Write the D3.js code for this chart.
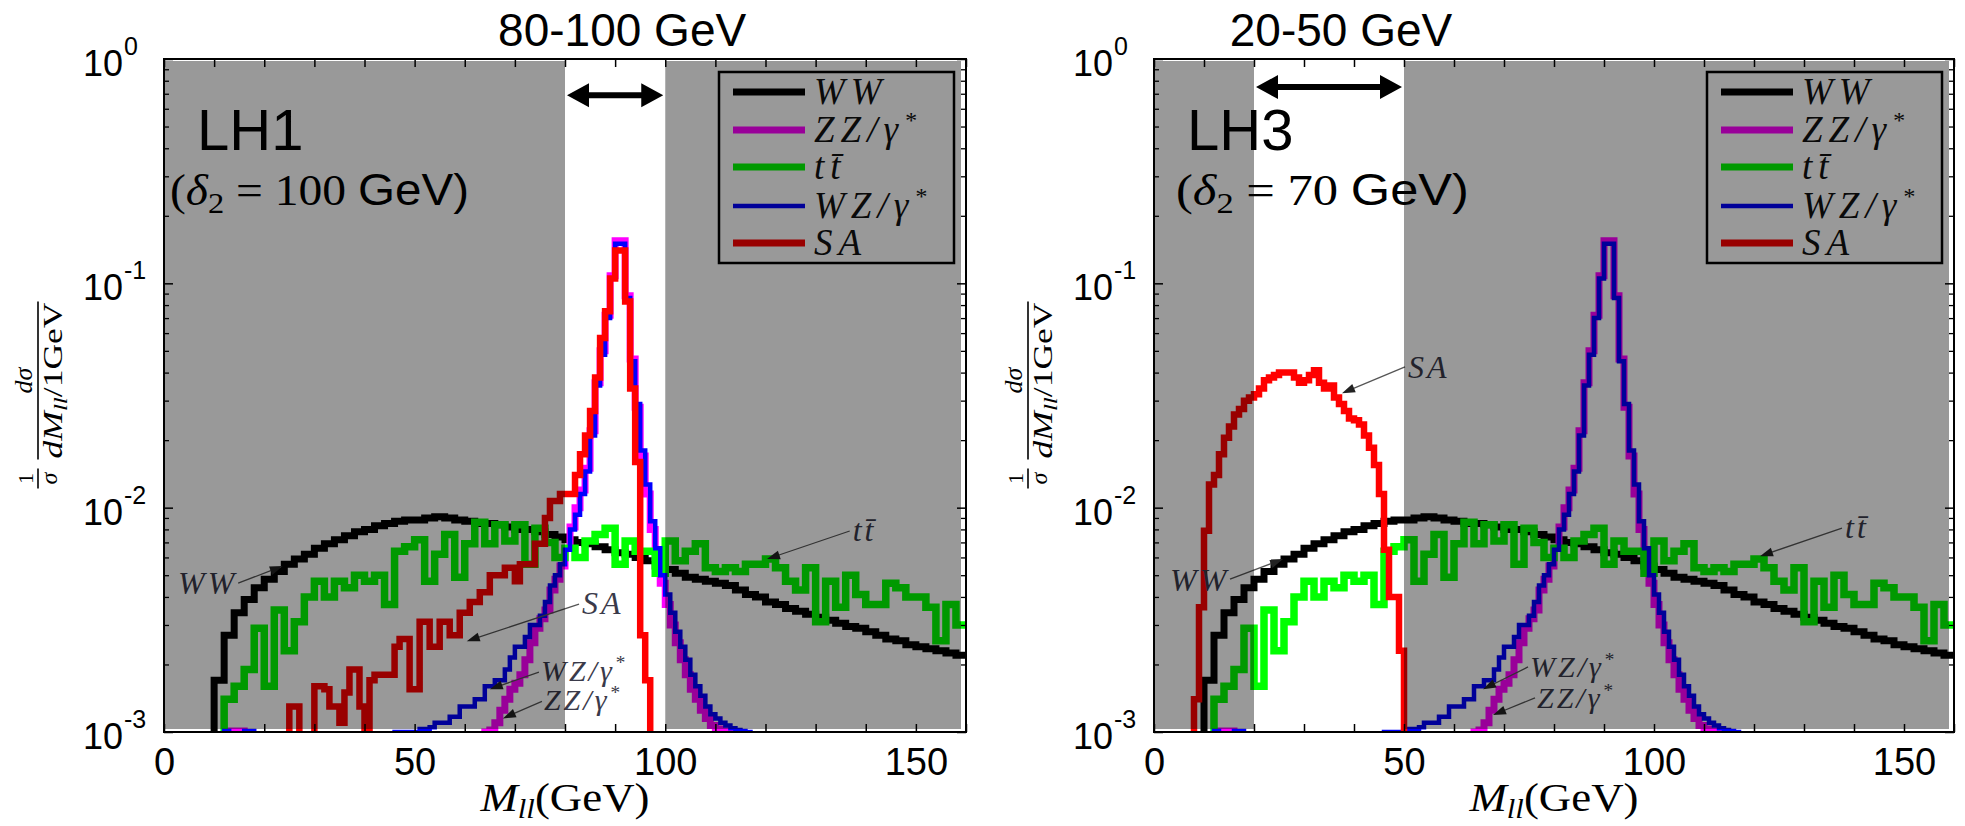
<!DOCTYPE html>
<html>
<head>
<meta charset="utf-8">
<script src="https://cdn.jsdelivr.net/npm/d3@7"></script>
<style>
body { margin: 0; background: #fff; }
svg { display: block; }
</style>
</head>
<body>
<svg id="chart" width="1965" height="826"></svg>
<script>
// Histogram contents, in units of 1e-3 (1/sigma dsigma/dM per GeV)
// WW: 2 GeV bins starting at 8 GeV
let wwVals = [0.5, 1.7, 2.7, 3.4, 3.9, 4.4, 4.8, 5.2, 5.6, 5.9, 6.2, 6.6, 6.9, 7.2, 7.5, 7.8, 8.0, 8.3, 8.5, 8.7,
  8.8, 8.8, 9.0, 9.1, 9.0, 8.8, 8.7, 8.5, 8.5, 8.4, 8.2, 8.0, 8.0, 7.8, 7.6, 7.4, 7.2, 7.0, 6.9, 6.7,
  6.5, 6.3, 6.2, 6.0, 5.8, 5.5, 5.3, 5.1, 4.9, 4.8, 4.7, 4.6, 4.5, 4.3, 4.1, 4.0, 3.8, 3.7, 3.55, 3.45,
  3.35, 3.25, 3.15, 3.05, 2.95, 2.9, 2.8, 2.7, 2.6, 2.55, 2.45, 2.4, 2.35, 2.3, 2.25, 2.2]
// ttbar: 2 GeV bins starting at 10 GeV
let ttVals = [0.5, 1.4, 1.6, 1.9, 2.9, 1.6, 3.5, 2.3, 3.1, 4.0, 4.7, 4.0, 4.7, 4.4, 5.0, 4.7, 5.0, 3.7, 6.4, 6.7,
  7.2, 4.7, 6.2, 7.6, 4.9, 6.9, 8.6, 6.9, 8.4, 7.1, 8.4, 5.6, 8.1, 7.0, 6.0, 6.6, 6.0, 7.1, 7.6, 8.1,
  5.6, 7.1, 6.4, 6.4, 5.1, 7.1, 5.8, 6.4, 6.9, 5.4, 5.2, 5.4, 5.2, 5.6, 5.6, 5.9, 5.4, 4.7, 4.3, 5.4,
  3.1, 4.7, 3.6, 5.0, 4.1, 3.7, 3.7, 4.6, 4.4, 4.0, 4.0, 3.6, 2.55, 3.7, 3.0]
// ZZ/gamma*: 1 GeV bins, a low piece from 12 GeV and the Z peak from 63 GeV
let zzLowVals = [0.5, 1.01, 1.01, 1.01, 0.5]
let zzVals = [0.5, 1.0, 1.02, 1.1, 1.25, 1.4, 1.55, 1.65, 1.8, 2.1, 2.5, 2.9, 3.2, 3.5, 4.3, 4.8, 5.5, 6.6, 8.2, 10,
  12, 15, 22, 36, 50, 72, 108, 155, 155, 88, 46, 28, 17, 11.5, 8.0, 6.0, 4.6, 3.7, 3.0, 2.5,
  2.1, 1.8, 1.55, 1.4, 1.25, 1.15, 1.07, 1.03, 1.01, 1.0, 0.5]
// WZ/gamma*: 1 GeV bins, a low piece from 11 GeV and the Z peak from 45 GeV
let wzLowVals = [0.5, 1.01, 0.5, 0.5, 0.5, 1.01, 1.01, 0.5]
let wzVals = [0.5, 1.0, 1.0, 1.0, 1.0, 1.0, 1.03, 1.03, 1.05, 1.1, 1.1, 1.1, 1.17, 1.17, 1.3, 1.3, 1.3, 1.4, 1.4, 1.6,
  1.6, 1.7, 1.7, 1.9, 2.15, 2.4, 2.4, 2.65, 3.0, 3.0, 3.3, 3.8, 4.5, 5.0, 5.6, 6.5, 8.0, 9.3, 11.5, 14.5,
  21, 35, 48, 70, 105, 150, 150, 86, 45, 29, 18, 12.7, 8.7, 6.6, 5.0, 4.1, 3.4, 2.8, 2.4, 2.1,
  1.8, 1.6, 1.45, 1.3, 1.2, 1.15, 1.1, 1.07, 1.04, 1.02, 1.01, 1.0, 0.5]
// SA signal, LH1: 1 GeV bins from 24 GeV
let saLH1Vals = [0.5, 1.3, 1.3, 0.8, 0.8, 0.8, 1.6, 1.6, 1.55, 1.3, 1.3, 1.1, 1.5, 1.9, 1.9, 1.3, 0.9, 1.7, 1.8, 1.8,
  1.8, 1.8, 2.4, 2.6, 2.6, 1.55, 1.55, 3.1, 3.1, 2.4, 2.4, 3.1, 3.1, 2.7, 2.7, 3.4, 3.4, 3.8, 3.8, 4.2,
  4.2, 5.0, 5.0, 5.0, 5.4, 5.4, 4.7, 5.6, 5.6, 5.6, 6.9, 6.9, 9.0, 10.7, 10.7, 11.5, 11.5, 11.5, 14, 17.3,
  21, 27, 38, 57, 75, 105, 140, 140, 83, 34, 16, 2.7, 1.7, 0.5]
// SA signal, LH3: 1 GeV bins from 7 GeV
let saLH3Vals = [0.5, 1.4, 3.6, 7.9, 12.7, 14, 17.3, 20.5, 23, 26, 27.5, 30, 31, 32, 34, 37, 38, 39, 40, 40,
  40, 38, 36, 37, 39, 41, 36, 34, 35, 31, 29, 27, 25, 24.5, 23.5, 21, 18.5, 15.5, 11.5, 6.5,
  4.0, 4.0, 2.3, 0.5]

let seriesNames = ["WW", "ZZ", "tt", "WZ", "SA"]
let xLabelTicks = [0, 50, 100, 150]
let yExponents = [0, -1, -2, -3]

// series colours (the grey shading darkens them outside the window)
let colors = { WW: "#000000", ZZ: "#ff00ff", tt: "#00ff00", WZ: "#0000ff", SA: "#ff0000" }
let widths = { WW: 7, ZZ: 7, tt: 7.5, WZ: 4.5, SA: 6.5 }

let sans = "'Liberation Sans', Arial, sans-serif"
let serif = "'Liberation Serif', 'Times New Roman', serif"

let plotTop = 59
let plotBottom = 732

let panels = [
  { id: "lh1", left: 164, right: 966, band: [80, 100], title: "80-100 GeV", titleX: 91.4, arrowY: 0.69,
    name: "LH1", delta: "100", deltaX: 6, deltaLen: 299, sa: [[24, 1, saLH1Vals]],
    notes: [
      { t: "WW", tx: 2.8, ty: 4.12e-3, sx: 14.8, sy: 4.61e-3, ax: 23.7, ay: 5.49e-3 },
      { t: "tt", tx: 137.4, ty: 7.1e-3, sx: 136.8, sy: 7.87e-3, ax: 120.3, ay: 5.9e-3 },
      { t: "SA", tx: 83.4, ty: 3.35e-3, sx: 82.8, sy: 3.72e-3, ax: 60.4, ay: 2.54e-3 },
      { t: "WZ", tx: 75.2, ty: 1.69e-3, sx: 74.8, sy: 1.85e-3, ax: 65.0, ay: 1.55e-3 },
      { t: "ZZ", tx: 75.8, ty: 1.25e-3, sx: 75.4, sy: 1.37e-3, ax: 67.6, ay: 1.15e-3 }
    ] },
  { id: "lh3", left: 1154, right: 1954, band: [20, 50], title: "20-50 GeV", titleX: 37.4, arrowY: 0.75,
    name: "LH3", delta: "70", deltaX: 22, deltaLen: 293, sa: [[7, 1, saLH3Vals]],
    notes: [
      { t: "SA", tx: 50.8, ty: 0.0378, sx: 50.2, sy: 0.0424, ax: 37.6, ay: 0.0324 },
      { t: "WW", tx: 3.2, ty: 4.25e-3, sx: 15.2, sy: 4.8e-3, ax: 25.8, ay: 5.9e-3 },
      { t: "tt", tx: 138.2, ty: 7.32e-3, sx: 137.6, sy: 8.11e-3, ax: 121.2, ay: 6.08e-3 },
      { t: "WZ", tx: 75.2, ty: 1.76e-3, sx: 74.8, sy: 1.95e-3, ax: 65.8, ay: 1.55e-3 },
      { t: "ZZ", tx: 76.6, ty: 1.28e-3, sx: 76.2, sy: 1.42e-3, ax: 67.8, ay: 1.19e-3 }
    ] }
]

let svg = d3.select("#chart")

// turns bins into step points, one extra point closes the last bin
let stepPoints = (x0, bin, vals) => {
  let pts = vals.map((v, i) => [x0 + i * bin, v * 1e-3])
  pts.push([x0 + vals.length * bin, vals[vals.length - 1] * 1e-3])
  return pts
}

// writes WW, ZZ/γ*, tt̄ ... in math style
let mathLabel = (sel, key, size) => {
  if (key === "tt") { sel.text("tt\u0304"); return }
  if (key === "WW" || key === "SA") { sel.text(key); return }
  sel.append("tspan").text(key + "/γ")
  sel.append("tspan").attr("dy", -size * 0.38).attr("font-size", size * 0.65).text("*")
}

let drawPanel = (p) => {
  let x = d3.scaleLinear().domain([0, 160]).range([p.left, p.right])
  let y = d3.scaleLog().domain([1e-3, 1]).range([plotBottom, plotTop])

  let segments = {
    WW: [[8, 2, wwVals]],
    ZZ: [[12, 1, zzLowVals], [63, 1, zzVals]],
    tt: [[10, 2, ttVals]],
    WZ: [[11, 1, wzLowVals], [45, 1, wzVals]],
    SA: p.sa
  }

  svg.append("clipPath").attr("id", "clip-" + p.id)
    .append("rect")
    .attr("x", p.left).attr("y", plotTop)
    .attr("width", p.right - p.left).attr("height", plotBottom - plotTop)

  let g = svg.append("g")
  let lines = g.append("g").attr("clip-path", "url(#clip-" + p.id + ")")

  let line = d3.line()
    .x(d => x(d[0]))
    .y(d => y(d[1]))
    .curve(d3.curveStepAfter)

  seriesNames.forEach(name => {
    segments[name].forEach(s => {
      lines.append("path")
        .attr("d", line(stepPoints(s[0], s[1], s[2])))
        .attr("fill", "none")
        .attr("stroke", colors[name])
        .attr("stroke-width", widths[name])
        .attr("stroke-linejoin", "miter")
    })
  })

  // labels with little arrows
  p.notes.forEach(n => {
    let x1 = x(n.sx), y1 = y(n.sy), x2 = x(n.ax), y2 = y(n.ay)
    let ang = Math.atan2(y2 - y1, x2 - x1)
    let c = Math.cos(ang), s = Math.sin(ang)
    g.append("line")
      .attr("x1", x1).attr("y1", y1).attr("x2", x2 - 8 * c).attr("y2", y2 - 8 * s)
      .attr("stroke", "#555").attr("stroke-width", 1.3)
    g.append("path")
      .attr("d", "M" + x2 + "," + y2 +
        "L" + (x2 - 13 * c + 4.5 * s) + "," + (y2 - 13 * s - 4.5 * c) +
        "L" + (x2 - 13 * c - 4.5 * s) + "," + (y2 - 13 * s + 4.5 * c) + "Z")
      .attr("fill", "#222")
    let size = (n.t === "WZ" || n.t === "ZZ") ? 30 : 32
    let txt = g.append("text")
      .attr("x", x(n.tx)).attr("y", y(n.ty))
      .attr("font-family", serif).attr("font-style", "italic")
      .attr("font-size", size).attr("letter-spacing", 3)
      .attr("fill", "#3a3a4a")
    mathLabel(txt, n.t, size)
  })

  // legend
  let lx = p.right - 12 - 235, ly = plotTop + 13
  let leg = g.append("g")
  leg.append("rect")
    .attr("x", lx).attr("y", ly).attr("width", 235).attr("height", 191)
    .attr("fill", "none").attr("stroke", "#000").attr("stroke-width", 2.5)
  let rowY = [20, 58, 95, 134, 171]
  seriesNames.forEach((name, i) => {
    leg.append("line")
      .attr("x1", lx + 14).attr("x2", lx + 86)
      .attr("y1", ly + rowY[i]).attr("y2", ly + rowY[i])
      .attr("stroke", colors[name]).attr("stroke-width", name === "WZ" ? 4.5 : 7)
    let t = leg.append("text")
      .attr("x", lx + 95).attr("y", ly + rowY[i] + 12)
      .attr("font-family", serif).attr("font-style", "italic")
      .attr("font-size", 37).attr("letter-spacing", 6).attr("fill", "#111")
    mathLabel(t, name, 37)
  })

  // grey shading outside the mass window
  let shade = g.append("g").attr("fill", "#000").attr("fill-opacity", 0.4)
  shade.append("rect")
    .attr("x", p.left).attr("y", plotTop + 2)
    .attr("width", x(p.band[0]) - p.left).attr("height", plotBottom - plotTop - 5)
  shade.append("rect")
    .attr("x", x(p.band[1])).attr("y", plotTop + 2)
    .attr("width", p.right - 5 - x(p.band[1])).attr("height", plotBottom - plotTop - 5)

  // axes: box and inner ticks
  let xTicks = d3.range(0, 161, 10)
  g.append("g")
    .attr("transform", "translate(0," + plotBottom + ")")
    .call(d3.axisBottom(x).tickValues(xTicks).tickSize(-8).tickPadding(16)
      .tickFormat(d => xLabelTicks.includes(d) ? d : ""))
    .call(a => a.select(".domain").remove())
    .call(a => a.selectAll("text").attr("font-family", sans).attr("font-size", 38).attr("fill", "#000"))
    .call(a => a.selectAll("line").attr("stroke-width", 1.5))
  g.append("g")
    .attr("transform", "translate(0," + plotTop + ")")
    .call(d3.axisTop(x).tickValues(xTicks).tickSize(-8).tickFormat(""))
    .call(a => a.select(".domain").remove())
    .call(a => a.selectAll("line").attr("stroke-width", 1.5))

  let majors = yExponents.map(e => Math.pow(10, e))
  let minors = []
  ;[-3, -2, -1].forEach(e => d3.range(2, 10).forEach(k => minors.push(k * Math.pow(10, e))))
  ;[[d3.axisLeft, p.left], [d3.axisRight, p.right]].forEach(([ax, pos]) => {
    g.append("g").attr("transform", "translate(" + pos + ",0)")
      .call(ax(y).tickValues(majors).tickSize(-9).tickFormat(""))
      .call(a => a.select(".domain").remove())
      .call(a => a.selectAll("line").attr("stroke-width", 1.5))
    g.append("g").attr("transform", "translate(" + pos + ",0)")
      .call(ax(y).tickValues(minors).tickSize(-5).tickFormat(""))
      .call(a => a.select(".domain").remove())
      .call(a => a.selectAll("line").attr("stroke-width", 1.3))
  })

  g.append("rect")
    .attr("x", p.left).attr("y", plotTop)
    .attr("width", p.right - p.left).attr("height", plotBottom - plotTop)
    .attr("fill", "none").attr("stroke", "#000").attr("stroke-width", 2)

  // y tick labels 10^n
  yExponents.forEach(e => {
    let ty = y(Math.pow(10, e))
    g.append("text")
      .attr("x", p.left - 41).attr("y", ty + 17)
      .attr("text-anchor", "end")
      .attr("font-family", sans).attr("font-size", 36)
      .text("10")
    g.append("text")
      .attr("x", p.left - 40).attr("y", ty - 4)
      .attr("font-family", sans).attr("font-size", 25)
      .text(e === 0 ? "0" : "-" + (-e))
  })

  // x axis title
  let xt = g.append("text")
    .attr("x", (p.left + p.right) / 2).attr("y", 811)
    .attr("text-anchor", "middle")
    .attr("font-family", serif).attr("font-size", 41)
  xt.append("tspan").attr("font-style", "italic").text("M")
  xt.append("tspan").attr("font-style", "italic").attr("font-size", 28).attr("dy", 7).text("ll")
  xt.append("tspan").attr("dy", -7).text("(GeV)")
  xt.attr("textLength", 169).attr("lengthAdjust", "spacingAndGlyphs")

  // y axis title, a stacked fraction turned on its side
  let yl = g.append("g")
    .attr("transform", "translate(" + (p.left - 126) + "," + ((plotTop + plotBottom) / 2) + ") rotate(-90)")
    .attr("font-family", serif)
  yl.append("line").attr("x1", -93).attr("x2", -73).attr("stroke", "#000").attr("stroke-width", 1.6)
  yl.append("text").attr("x", -83).attr("y", -5).attr("text-anchor", "middle")
    .attr("font-size", 22).text("1")
  yl.append("text").attr("x", -83).attr("y", 19).attr("text-anchor", "middle")
    .attr("font-size", 24).attr("font-style", "italic").text("σ")
  yl.append("line").attr("x1", -64).attr("x2", 94).attr("stroke", "#000").attr("stroke-width", 1.6)
  yl.append("text").attr("x", 15).attr("y", -6).attr("text-anchor", "middle")
    .attr("font-size", 26).attr("font-style", "italic").text("dσ")
  let den = yl.append("text").attr("x", 15).attr("y", 24).attr("text-anchor", "middle")
    .attr("font-size", 27)
  den.append("tspan").attr("font-style", "italic").text("dM")
  den.append("tspan").attr("font-style", "italic").attr("font-size", 19).attr("dy", 5).text("ll")
  den.append("tspan").attr("dy", -5).text("/1GeV")
  den.attr("textLength", 156).attr("lengthAdjust", "spacingAndGlyphs")

  // window title and its double arrow
  g.append("text")
    .attr("x", x(p.titleX)).attr("y", 46)
    .attr("text-anchor", "middle")
    .attr("font-family", sans).attr("font-size", 46)
    .text(p.title)

  let a1 = x(p.band[0]) + 2, a2 = x(p.band[1]) - 2, ay = y(p.arrowY)
  g.append("line")
    .attr("x1", a1 + 18).attr("x2", a2 - 18).attr("y1", ay).attr("y2", ay)
    .attr("stroke", "#000").attr("stroke-width", 6)
  g.append("path")
    .attr("d", "M" + a1 + "," + ay + "L" + (a1 + 22) + "," + (ay - 12) + "L" + (a1 + 22) + "," + (ay + 12) + "Z" +
      "M" + a2 + "," + ay + "L" + (a2 - 22) + "," + (ay - 12) + "L" + (a2 - 22) + "," + (ay + 12) + "Z")
    .attr("fill", "#000")

  // model name and delta_2
  g.append("text")
    .attr("x", p.left + 33).attr("y", 150)
    .attr("font-family", sans).attr("font-size", 58)
    .text(p.name)
  let dt = g.append("text")
    .attr("x", p.left + p.deltaX).attr("y", 205)
    .attr("font-family", serif).attr("font-size", 44)
  dt.append("tspan").text("(")
  dt.append("tspan").attr("font-style", "italic").text("δ")
  dt.append("tspan").attr("font-size", 30).attr("dy", 8).text("2")
  dt.append("tspan").attr("dy", -8).text(" = " + p.delta + " ")
  dt.append("tspan").attr("font-family", sans).text("GeV)")
  dt.attr("textLength", p.deltaLen).attr("lengthAdjust", "spacingAndGlyphs")
}

panels.forEach(drawPanel)
</script>
</body>
</html>
